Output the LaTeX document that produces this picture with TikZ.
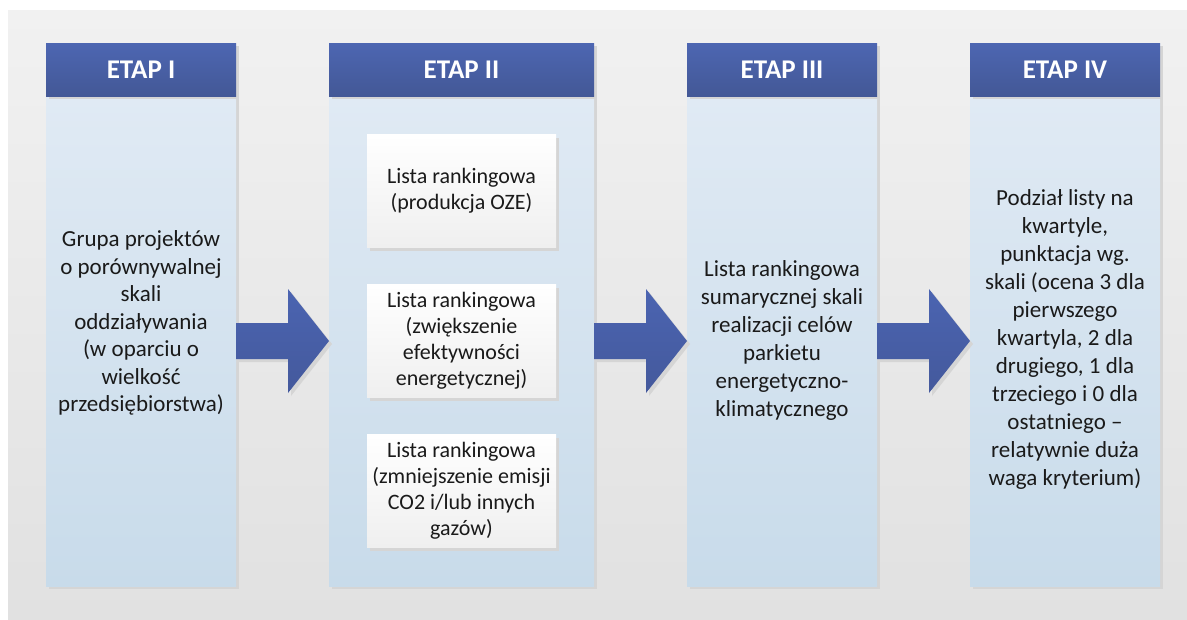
\documentclass[tikz,border=0pt]{standalone}
\usepackage{fontspec}
\setmainfont{Carlito}
\usepackage{tikz}
\usepackage{xcolor}
\usetikzlibrary{positioning,shadows,calc}

\definecolor{bgtop}{HTML}{F1F1F1}
\definecolor{bgbot}{HTML}{E1E1E1}
\definecolor{headtop}{HTML}{4D66B2}
\definecolor{headbot}{HTML}{435896}
\definecolor{coltop}{HTML}{E0EAF4}
\definecolor{colbot}{HTML}{C8DBEA}
\definecolor{boxbot}{HTML}{EFEFEF}
\definecolor{shade}{HTML}{D5D5D5}
\definecolor{txt}{HTML}{1A1A1A}
\definecolor{arrtop}{HTML}{4B64B1}
\definecolor{arrbot}{HTML}{44599C}

\tikzset{
  cien/.style={drop shadow={shadow xshift=3pt,shadow yshift=-3pt,fill=shade,opacity=1}},
  etap/.style={rectangle,minimum width=190pt,minimum height=53pt,inner sep=0pt,outer sep=0pt,
    top color=headtop,bottom color=headbot,text=white,cien,
    font=\fontsize{27}{32}\selectfont\bfseries},
  kolumna/.style={rectangle,minimum width=190pt,minimum height=490pt,inner sep=0pt,outer sep=0pt,
    top color=coltop,bottom color=colbot,cien},
  lista/.style={rectangle,minimum width=189pt,minimum height=113pt,inner sep=0pt,outer sep=0pt,
    top color=white,bottom color=boxbot,cien,align=center,text=txt,
    font=\fontsize{22}{26}\selectfont},
  opis/.style={align=center,text=txt,font=\fontsize{23}{28}\selectfont},
  blok/.style={top color=arrtop,bottom color=arrbot,cien}
}

\begin{document}
\begin{tikzpicture}[x=1pt,y=-1pt]
\useasboundingbox (0,0) rectangle (1187,619);
\fill[top color=bgtop,bottom color=bgbot] (8,10) rectangle (1187,619);

% columns
\node[kolumna] (b1) at (141,341) {};
\node[kolumna,minimum width=265pt,right=93pt of b1] (b2) {};
\node[kolumna,right=93pt of b2] (b3) {};
\node[kolumna,right=93pt of b3] (b4) {};

\node[etap,above=0pt of b1] (h1) {ETAP I};
\node[etap,minimum width=265pt,above=0pt of b2] (h2) {ETAP II};
\node[etap,above=0pt of b3] (h3) {ETAP III};
\node[etap,above=0pt of b4] (h4) {ETAP IV};

% arrows between stages
\foreach \a/\b in {b1/b2,b2/b3,b3/b4}
  \path[blok] ($(\a.east)+(0,-18)$) -- ++(52,0) -- ++(0,-34) -- (\b.west)
    -- ++(-41,52) -- ++(0,-34) -- ++(-52,0) -- cycle;

% stage I
\node[opis,font=\fontsize{23}{27.5}\selectfont] (t1) at ($(b1)+(0,-18)$)
  {Grupa projektów\\o porównywalnej\\skali\\oddziaływania\\(w oparciu o\\wielkość\\przedsiębiorstwa)};

% stage II
\node[lista] (r2) at (b2) {Lista rankingowa\\(zwiększenie\\efektywności\\energetycznej)};
\node[lista,above=37pt of r2] (r1) {Lista rankingowa\\(produkcja OZE)};
\node[lista,below=37pt of r2] (r3) {Lista rankingowa\\(zmniejszenie emisji\\CO2 i/lub innych\\gazów)};

% stage III
\node[opis] (t3) at ($(b3)+(0,-1)$)
  {Lista rankingowa\\sumarycznej skali\\realizacji celów\\parkietu\\energetyczno-\\klimatycznego};

% stage IV
\node[opis] (t4) at ($(b4)+(0,-2)$)
  {Podział listy na\\kwartyle,\\punktacja wg.\\skali (ocena 3 dla\\pierwszego\\kwartyla, 2 dla\\drugiego, 1 dla\\trzeciego i 0 dla\\ostatniego --\\relatywnie duża\\waga kryterium)};
\end{tikzpicture}
\end{document}
